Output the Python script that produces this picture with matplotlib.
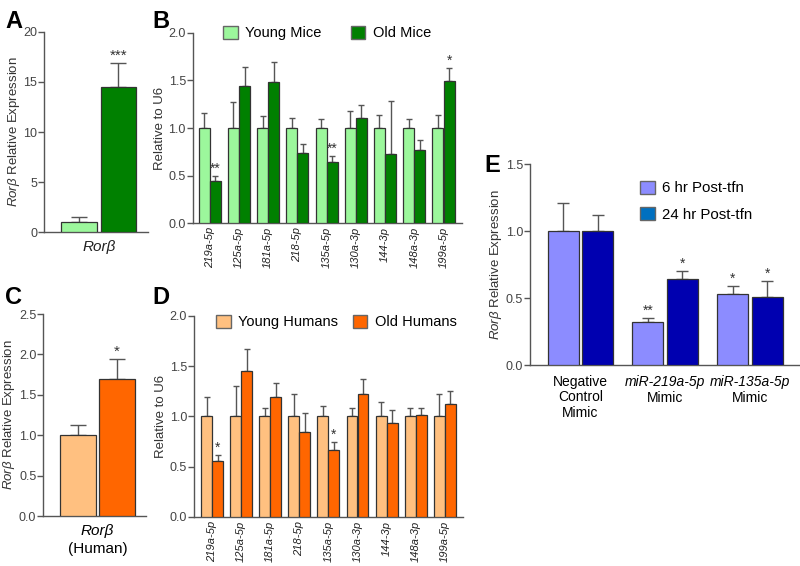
import numpy as np
import matplotlib
matplotlib.use("Agg")
import matplotlib.pyplot as plt
from matplotlib.patches import Patch

plt.rcParams['font.family'] = ['Liberation Sans', 'DejaVu Sans']
plt.rcParams['mathtext.fontset'] = 'custom'
plt.rcParams['mathtext.rm'] = 'Liberation Sans'
plt.rcParams['mathtext.it'] = 'Liberation Sans:italic'

# ---- data ----
# A : Rorb in mice
a_values = [1.0, 14.5]
a_err_top = [1.5, 16.9]
# C : Rorb in humans
c_values = [1.0, 1.69]
c_err_top = [1.13, 1.94]

mirs = ["219a-5p", "125a-5p", "181a-5p", "218-5p", "135a-5p",
        "130a-3p", "144-3p", "148a-3p", "199a-5p"]
# B : mice
b_young = [1.0] * 9
b_old = [0.44, 1.44, 1.48, 0.74, 0.64, 1.11, 0.73, 0.77, 1.49]
b_young_top = [1.16, 1.27, 1.13, 1.11, 1.10, 1.18, 1.14, 1.10, 1.14]
b_old_top = [0.50, 1.64, 1.69, 0.83, 0.71, 1.24, 1.28, 0.87, 1.63]
b_stars_old = ["**", "", "", "", "**", "", "", "", "*"]
# D : humans
d_young = [1.0] * 9
d_old = [0.56, 1.45, 1.19, 0.85, 0.67, 1.22, 0.94, 1.01, 1.12]
d_young_top = [1.19, 1.30, 1.08, 1.22, 1.10, 1.08, 1.14, 1.08, 1.22]
d_old_top = [0.62, 1.67, 1.33, 1.03, 0.75, 1.37, 1.06, 1.08, 1.25]
d_stars_old = ["*", "", "", "", "*", "", "", "", ""]
# E : mimics
e_groups_it = ["", "miR-219a-5p", "miR-135a-5p"]
e_6hr = [1.0, 0.32, 0.53]
e_24hr = [1.0, 0.64, 0.51]
e_6hr_top = [1.21, 0.35, 0.59]
e_24hr_top = [1.12, 0.70, 0.63]
e_stars_6 = ["", "**", "*"]
e_stars_24 = ["", "*", "*"]

GREEN_L, GREEN_D = "#9cf79c", "#008000"
ORANGE_L, ORANGE_D = "#ffc080", "#ff6600"
PURPLE_L, BLUE_D, BLUE_LEG = "#8c8cff", "#0000b0", "#0070c0"
EDGE = "#333333"
AXC = "#555555"
ERRC = "#555555"
YLAB = r"$\mathit{Ror\beta}$ Relative Expression"


def style_axis(ax):
    for s in ["top", "right"]:
        ax.spines[s].set_visible(False)
    for s in ["left", "bottom"]:
        ax.spines[s].set_color(AXC)
        ax.spines[s].set_linewidth(1.0)
    ax.tick_params(axis='y', direction='out', length=4, width=1, color=AXC,
                   labelsize=9, labelcolor="#444444", pad=1)
    ax.tick_params(axis='x', length=0, labelcolor="#222222")


def bar_err(ax, x, vals, tops, color, width, capsize):
    ax.bar(x, vals, width, color=color, edgecolor=EDGE, linewidth=0.9, zorder=3)
    err = np.array(tops) - np.array(vals)
    ax.errorbar(x, vals, yerr=[np.zeros_like(err), err], fmt='none',
                ecolor=ERRC, elinewidth=1.0, capsize=capsize, capthick=1.0, zorder=2)


def stars(ax, x, tops, labels, size=10):
    for xi, t, s in zip(x, tops, labels):
        if s:
            ax.annotate(s, (xi, t), xytext=(0, 0), textcoords='offset points',
                        ha='center', va='bottom', fontsize=size, color="#333333")


fig = plt.figure(figsize=(8, 5.66), dpi=100)

# ---------- A ----------
axA = fig.add_axes([0.055, 0.590, 0.130, 0.3535])
bar_err(axA, [0, 1], a_values, a_err_top, [GREEN_L, GREEN_D], 0.91, 6)
stars(axA, [1], [a_err_top[1]], ["***"], size=11)
axA.set_xlim(-0.886, 1.747)
axA.set_ylim(0, 20)
axA.set_yticks([0, 5, 10, 15, 20])
axA.set_xticks([0.5])
axA.set_xticklabels(["Rorβ"], fontsize=11, style='italic')
axA.set_ylabel(YLAB, fontsize=9.5, color="#333333", labelpad=1)
style_axis(axA)
axA.tick_params(axis='x', pad=6)

# ---------- C ----------
axC = fig.add_axes([0.054, 0.0883, 0.129, 0.3569])
bar_err(axC, [0, 1], c_values, c_err_top, [ORANGE_L, ORANGE_D], 0.91, 6)
stars(axC, [1], [c_err_top[1]], ["*"], size=11)
axC.set_xlim(-0.886, 1.747)
axC.set_ylim(0, 2.5)
axC.set_yticks([0, 0.5, 1.0, 1.5, 2.0, 2.5])
axC.set_yticklabels(["0.0", "0.5", "1.0", "1.5", "2.0", "2.5"])
axC.set_xticks([0.5])
axC.set_xticklabels([""])
axC.annotate("Rorβ", (0.5, 0), xycoords=('data', 'axes fraction'), xytext=(0, -6),
             textcoords='offset points', ha='center', va='top', fontsize=11, style='italic')
axC.annotate("(Human)", (0.5, 0), xycoords=('data', 'axes fraction'), xytext=(0, -19),
             textcoords='offset points', ha='center', va='top', fontsize=11)
axC.set_ylabel(YLAB, fontsize=9.5, color="#333333", labelpad=1)
style_axis(axC)


def mir_panel(rect, xlim, young, old, ytop, otop, ostars, cl, cd, labels, leg_anchor, colsp):
    ax = fig.add_axes(rect)
    x = np.arange(len(mirs))
    bar_err(ax, x - 0.19, young, ytop, cl, 0.375, 2.2)
    bar_err(ax, x + 0.19, old, otop, cd, 0.375, 2.2)
    stars(ax, x + 0.19, otop, ostars)
    ax.set_xlim(*xlim)
    ax.set_ylim(0, 2.0)
    ax.set_yticks([0, 0.5, 1.0, 1.5, 2.0])
    ax.set_yticklabels(["0.0", "0.5", "1.0", "1.5", "2.0"])
    ax.set_xticks(x)
    ax.set_xticklabels(mirs, rotation=90, style='italic', fontsize=8)
    ax.set_ylabel("Relative to U6", fontsize=9.5, color="#333333", labelpad=2)
    style_axis(ax)
    ax.tick_params(axis='x', pad=3)
    handles = [Patch(facecolor=cl, edgecolor="#666666", label=labels[0]),
               Patch(facecolor=cd, edgecolor="#666666", label=labels[1])]
    ax.legend(handles=handles, loc='center', bbox_to_anchor=leg_anchor, ncol=2,
              frameon=False, fontsize=10.5, handlelength=1.0, handleheight=1.0,
              handletextpad=0.5, columnspacing=colsp, borderpad=0)
    return ax


axB = mir_panel([0.241, 0.606, 0.336, 0.3357], (-0.58, 8.62), b_young, b_old,
                b_young_top, b_old_top, b_stars_old, GREEN_L, GREEN_D,
                ["Young Mice", "Old Mice"], (0.5, 1.0), 2.0)
axD = mir_panel([0.2425, 0.0866, 0.336, 0.3551], (-0.62, 8.62), d_young, d_old,
                d_young_top, d_old_top, d_stars_old, ORANGE_L, ORANGE_D,
                ["Young Humans", "Old Humans"], (0.53, 0.97), 1.0)

# ---------- E ----------
axE = fig.add_axes([0.6625, 0.3551, 0.336, 0.3551])
xe = np.arange(3)
bar_err(axE, xe - 0.203, e_6hr, e_6hr_top, PURPLE_L, 0.365, 4.3)
bar_err(axE, xe + 0.203, e_24hr, e_24hr_top, BLUE_D, 0.365, 4.3)
stars(axE, xe - 0.203, e_6hr_top, e_stars_6)
stars(axE, xe + 0.203, e_24hr_top, e_stars_24)
axE.set_xlim(-0.594, 2.576)
axE.set_ylim(0, 1.5)
axE.set_yticks([0, 0.5, 1.0, 1.5])
axE.set_yticklabels(["0.0", "0.5", "1.0", "1.5"])
axE.set_xticks(xe)
axE.set_xticklabels(["", "", ""])
axE.annotate("Negative\nControl\nMimic", (0, 0), xycoords=('data', 'axes fraction'),
             xytext=(0, -7), textcoords='offset points', ha='center', va='top',
             fontsize=10, linespacing=1.15)
for i in [1, 2]:
    axE.annotate(e_groups_it[i], (i, 0), xycoords=('data', 'axes fraction'),
                 xytext=(0, -7), textcoords='offset points', ha='center', va='top',
                 fontsize=10, style='italic')
    axE.annotate("Mimic", (i, 0), xycoords=('data', 'axes fraction'),
                 xytext=(0, -19), textcoords='offset points', ha='center', va='top',
                 fontsize=10)
axE.set_ylabel(YLAB, fontsize=9.5, color="#333333", labelpad=1)
style_axis(axE)
e_handles = [Patch(facecolor=PURPLE_L, edgecolor="#666666", label="6 hr Post-tfn"),
             Patch(facecolor=BLUE_LEG, edgecolor="#666666", label="24 hr Post-tfn")]
axE.legend(handles=e_handles, loc='upper left', bbox_to_anchor=(0.38, 0.955),
           frameon=False, fontsize=10.8, handlelength=1.0, handleheight=1.0,
           handletextpad=0.5, labelspacing=0.75, borderpad=0)

# ---------- panel letters ----------
for lab, (px, py) in {"A": (5, 22), "B": (152, 22), "C": (5, 298),
                      "D": (152, 298), "E": (484, 165)}.items():
    fig.text(px / 800, 1 - py / 566, lab, fontsize=17, fontweight='bold',
             ha='left', va='center', color="black")

fig.savefig("out.png", dpi=100)
